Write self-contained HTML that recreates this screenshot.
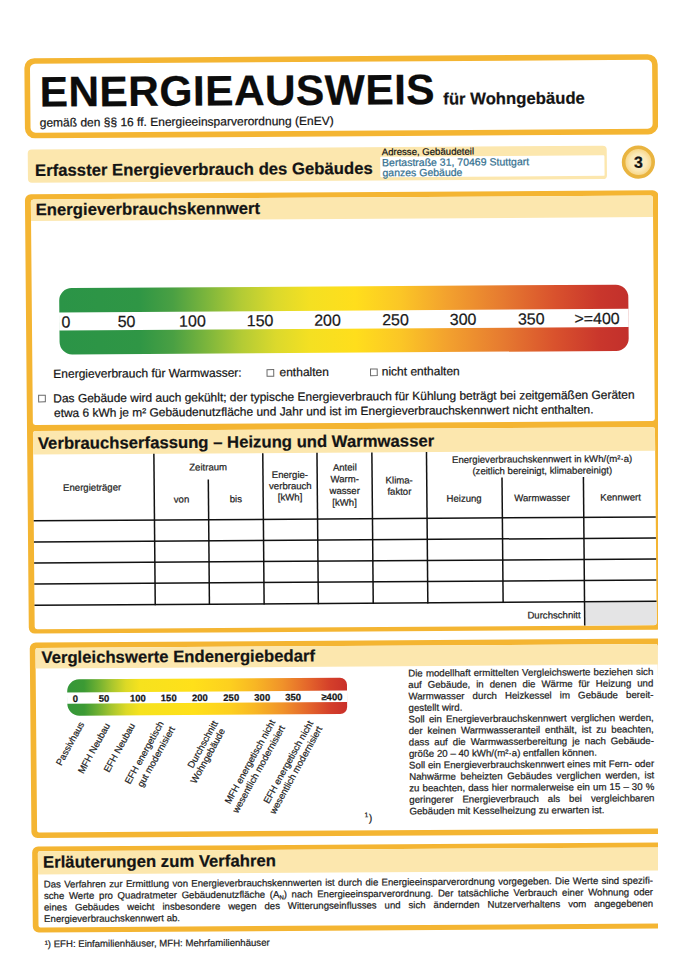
<!DOCTYPE html>
<html lang="de">
<head>
<meta charset="utf-8">
<title>Energieausweis</title>
<style>
html,body{margin:0;padding:0;background:#fff;}
body{width:679px;height:960px;overflow:hidden;position:relative;font-family:"Liberation Sans",sans-serif;color:#141414;}
#clip{position:absolute;left:0;top:0;width:657.5px;height:960px;overflow:hidden;background:#fff;}
#page{position:absolute;left:0;top:0;width:720px;height:990px;transform-origin:0 0;transform:matrix(1,-0.0064,0.009,1,0,0);}
.abs{position:absolute;}
.t{position:absolute;left:0;top:0;white-space:nowrap;line-height:1;-webkit-text-stroke:0.22px;}
.j{text-align:justify;text-align-last:justify;}
.rl text{font-size:9.45px;fill:#1c1c1c;stroke:#1c1c1c;stroke-width:0.2px;font-family:"Liberation Sans",sans-serif;text-anchor:end;}
</style>
</head>
<body>
<div id="clip"><div id="page">
<svg class="abs" style="left:0;top:0;overflow:visible;" width="720" height="990" viewBox="0 0 720 990">
<defs><linearGradient id="g1" x1="0" y1="0" x2="1" y2="0"><stop offset="0%" stop-color="#2b9447"/><stop offset="14%" stop-color="#2f9645"/><stop offset="20%" stop-color="#4aa043"/><stop offset="26%" stop-color="#7db63c"/><stop offset="32%" stop-color="#b3cb35"/><stop offset="38%" stop-color="#dbd92c"/><stop offset="44%" stop-color="#f4e022"/><stop offset="52%" stop-color="#ffde1c"/><stop offset="60%" stop-color="#fbc626"/><stop offset="68%" stop-color="#f3a22e"/><stop offset="78%" stop-color="#e67a30"/><stop offset="87%" stop-color="#d9522d"/><stop offset="95%" stop-color="#c9362c"/><stop offset="100%" stop-color="#c2302c"/></linearGradient><linearGradient id="g2" x1="0" y1="0" x2="1" y2="0"><stop offset="0%" stop-color="#35973a"/><stop offset="6%" stop-color="#3c9a34"/><stop offset="11%" stop-color="#6fb032"/><stop offset="16%" stop-color="#a9c62e"/><stop offset="21%" stop-color="#dcd926"/><stop offset="26%" stop-color="#f6e21e"/><stop offset="45%" stop-color="#ffe01a"/><stop offset="58%" stop-color="#fdd01f"/><stop offset="67%" stop-color="#f8b724"/><stop offset="77%" stop-color="#f0922a"/><stop offset="86%" stop-color="#e4662b"/><stop offset="94%" stop-color="#d43f2a"/><stop offset="100%" stop-color="#c9302a"/></linearGradient><radialGradient id="gc" cx="0.5" cy="0.5" r="0.5"><stop offset="0" stop-color="#fcf1cc"/><stop offset="0.55" stop-color="#fbe9b8"/><stop offset="0.85" stop-color="#f8d98f"/><stop offset="1" stop-color="#f3c868"/></radialGradient></defs>
<path d="M33.77,58.35H647.07A10,10 0 0 1 657.07,68.35V128.55A10,10 0 0 1 647.07,138.55H33.77A10,10 0 0 1 23.77,128.55V68.35A10,10 0 0 1 33.77,58.35Z" fill="#f4b532"/>
<path d="M34.37,63.95H646.47A5,5 0 0 1 651.47,68.95V127.95A5,5 0 0 1 646.47,132.95H34.37A5,5 0 0 1 29.37,127.95V68.95A5,5 0 0 1 34.37,63.95Z" fill="#fff"/>
<path d="M30.35,149.57H601.35A4,4 0 0 1 605.35,153.57V178.97A4,4 0 0 1 601.35,182.97H30.35A4,4 0 0 1 26.35,178.97V153.57A4,4 0 0 1 30.35,149.57Z" fill="#fce7ae"/>
<path d="M379.77,159.22H601.97A1,1 0 0 1 602.97,160.22V178.72A1,1 0 0 1 601.97,179.72H379.77A1,1 0 0 1 378.77,178.72V160.22A1,1 0 0 1 379.77,159.22Z" fill="#fff"/>
<circle cx="636.9" cy="166.18" r="14.8" fill="url(#gc)" stroke="#e9b440" stroke-width="3.6"/>
<path d="M29.15,194.45H650.75A6,6 0 0 1 656.75,200.45V627.8A6,6 0 0 1 650.75,633.8H29.15A6,6 0 0 1 23.15,627.8V200.45A6,6 0 0 1 29.15,194.45Z" fill="#f4b532"/>
<path d="M31.55,199.65H648.55A2.5,2.5 0 0 1 651.05,202.15V422.7A2.5,2.5 0 0 1 648.55,425.2H31.55A2.5,2.5 0 0 1 29.05,422.7V202.15A2.5,2.5 0 0 1 31.55,199.65Z" fill="#fff"/>
<path d="M31.55,431.3H648.55A2.5,2.5 0 0 1 651.05,433.8V626.9A2.5,2.5 0 0 1 648.55,629.4H31.55A2.5,2.5 0 0 1 29.05,626.9V433.8A2.5,2.5 0 0 1 31.55,431.3Z" fill="#fff"/>
<path d="M31.55,199.65H648.55A2.5,2.5 0 0 1 651.05,202.15V221.15H29.05V202.15A2.5,2.5 0 0 1 31.55,199.65Z" fill="#fce7ae"/>
<path d="M31.55,431.3H648.55A2.5,2.5 0 0 1 651.05,433.8V454.8H29.05V433.8A2.5,2.5 0 0 1 31.55,431.3Z" fill="#fce7ae"/>
<path d="M69,288.56H613.1A12.5,12.5 0 0 1 625.6,301.06V342.36A12.5,12.5 0 0 1 613.1,354.86H69A12.5,12.5 0 0 1 56.5,342.36V301.06A12.5,12.5 0 0 1 69,288.56Z" fill="url(#g1)"/>
<rect x="56.19" y="312.76" width="569.6" height="18.2" fill="#fff"/>
<rect x="263.66" y="371.32" width="6.7" height="6.7" fill="#fff" stroke="#6a6a6a" stroke-width="1"/>
<rect x="367.16" y="371.32" width="6.7" height="6.7" fill="#fff" stroke="#6a6a6a" stroke-width="1"/>
<rect x="35.05" y="395.42" width="6.7" height="6.7" fill="#fff" stroke="#6a6a6a" stroke-width="1"/>
<path d="M579.83,606.25H651.05V626.6A2.5,2.5 0 0 1 648.55,629.1H579.83V606.25Z" fill="#e4e4e5"/>
<rect x="149.03" y="454.8" width="1.5" height="151.45" fill="#111"/>
<rect x="203.23" y="480.7" width="1.5" height="125.55" fill="#111"/>
<rect x="257.93" y="454.8" width="1.5" height="151.45" fill="#111"/>
<rect x="312.13" y="454.8" width="1.5" height="151.45" fill="#111"/>
<rect x="367.03" y="454.8" width="1.5" height="151.45" fill="#111"/>
<rect x="421.63" y="454.8" width="1.5" height="151.45" fill="#111"/>
<rect x="496.93" y="480.7" width="1.5" height="125.55" fill="#111"/>
<rect x="578.33" y="480.7" width="1.5" height="148.4" fill="#111"/>
<rect x="29.05" y="520.3" width="622" height="1.5" fill="#111"/>
<rect x="29.05" y="541.35" width="622" height="1.5" fill="#111"/>
<rect x="29.05" y="562.4" width="622" height="1.5" fill="#111"/>
<rect x="29.05" y="583.4" width="622" height="1.5" fill="#111"/>
<rect x="29.05" y="604.75" width="622" height="1.5" fill="#111"/>
<path d="M29.92,642.75H651.52A6,6 0 0 1 657.52,648.75V832.15A6,6 0 0 1 651.52,838.15H29.92A6,6 0 0 1 23.92,832.15V648.75A6,6 0 0 1 29.92,642.75Z" fill="#f4b532"/>
<path d="M31.62,648.15H649.82A2,2 0 0 1 651.82,650.15V830.65A2,2 0 0 1 649.82,832.65H31.62A2,2 0 0 1 29.62,830.65V650.15A2,2 0 0 1 31.62,648.15Z" fill="#fff"/>
<path d="M31.62,648.15H649.82A2,2 0 0 1 651.82,650.15V668.75H29.62V650.15A2,2 0 0 1 31.62,648.15Z" fill="#fce7ae"/>
<path d="M72.98,679.79H333.78A7,7 0 0 1 340.78,686.79V709.19A7,7 0 0 1 333.78,716.19H72.98A12,12 0 0 1 60.98,704.19V691.79A12,12 0 0 1 72.98,679.79Z" fill="url(#g2)"/>
<rect x="60.76" y="692.79" width="280.2" height="11.3" fill="#fff"/>
<path d="M30.48,846.76H658.48A6,6 0 0 1 664.48,852.76V926.76A6,6 0 0 1 658.48,932.76H30.48A6,6 0 0 1 24.48,926.76V852.76A6,6 0 0 1 30.48,846.76Z" fill="#f4b532"/>
<path d="M32.18,851.56H656.78A2,2 0 0 1 658.78,853.56V925.66A2,2 0 0 1 656.78,927.66H32.18A2,2 0 0 1 30.18,925.66V853.56A2,2 0 0 1 32.18,851.56Z" fill="#fff"/>
<path d="M32.18,851.56H656.78A2,2 0 0 1 658.78,853.56V874.66H30.18V853.56A2,2 0 0 1 32.18,851.56Z" fill="#fce7ae"/>
</svg>
<div class="t" style="font-size:42.6px;font-weight:bold;color:#0c0c0c;letter-spacing:0.35px;transform:translate(38.77px,70.77px);">ENERGIEAUSWEIS</div>
<div class="t" style="font-size:16.7px;font-weight:bold;transform:translate(442.38px,94.33px);">für Wohngebäude</div>
<div class="t" style="font-size:12px;transform:translate(38.58px,116.95px);">gemäß den §§ 16 ff. Energieeinsparverordnung (EnEV)</div>
<div class="t" style="font-size:16.7px;font-weight:bold;transform:translate(33.53px,163.22px);">Erfasster Energieverbrauch des Gebäudes</div>
<div class="t" style="font-size:9.6px;transform:translate(380.38px,149.63px);">Adresse, Gebäudeteil</div>
<div class="t" style="font-size:10.5px;color:#34708f;transform:translate(380.54px,159.64px);">Bertastraße 31, 70469 Stuttgart</div>
<div class="t" style="font-size:10.5px;color:#34708f;transform:translate(380.87px,169.84px);">ganzes Gebäude</div>
<div class="t" style="font-size:16px;font-weight:bold;transform:translate(632.43px,158.88px);">3</div>
<div class="t" style="font-size:16.7px;font-weight:bold;transform:translate(33.77px,202.52px);">Energieverbrauchskennwert</div>
<div class="t" style="font-size:16.7px;font-weight:bold;transform:translate(33.87px,436.12px);">Verbrauchserfassung – Heizung und Warmwasser</div>
<div class="t" style="font-size:16px;color:#1a1a1a;transform:translate(58.59px,314.78px);">0</div>
<div class="t" style="font-size:16px;color:#1a1a1a;transform:translate(114.71px,314.78px);">50</div>
<div class="t" style="font-size:16px;color:#1a1a1a;transform:translate(176.15px,314.78px);">100</div>
<div class="t" style="font-size:16px;color:#1a1a1a;transform:translate(243.85px,314.78px);">150</div>
<div class="t" style="font-size:16px;color:#1a1a1a;transform:translate(311.25px,314.78px);">200</div>
<div class="t" style="font-size:16px;color:#1a1a1a;transform:translate(379.25px,314.78px);">250</div>
<div class="t" style="font-size:16px;color:#1a1a1a;transform:translate(446.79px,314.78px);">300</div>
<div class="t" style="font-size:16px;color:#1a1a1a;transform:translate(514.99px,314.78px);">350</div>
<div class="t" style="font-size:16px;color:#1a1a1a;transform:translate(571.43px,314.78px);">&gt;=400</div>
<div class="t" style="font-size:12px;transform:translate(49.94px,368.23px);">Energieverbrauch für Warmwasser:</div>
<div class="t" style="font-size:12px;transform:translate(276.12px,368.02px);">enthalten</div>
<div class="t" style="font-size:12px;transform:translate(378.32px,368.02px);">nicht enthalten</div>
<div class="t" style="font-size:11.95px;transform:translate(49.72px,393.72px);">Das Gebäude wird auch gekühlt; der typische Energieverbrauch für Kühlung beträgt bei zeitgemäßen Geräten</div>
<div class="t" style="font-size:11.95px;transform:translate(50.27px,408.32px);">etwa 6 kWh je m² Gebäudenutzfläche und Jahr und ist im Energieverbrauchskennwert nicht enthalten.</div>
<div class="t" style="font-size:9.6px;color:#1e1e1e;transform:translate(58.68px,483.26px);">Energieträger</div>
<div class="t" style="font-size:9.6px;color:#1e1e1e;transform:translate(184.99px,463.7px);">Zeitraum</div>
<div class="t" style="font-size:9.6px;color:#1e1e1e;transform:translate(169.23px,495.73px);">von</div>
<div class="t" style="font-size:9.6px;color:#1e1e1e;transform:translate(225.2px,495.68px);">bis</div>
<div class="t" style="font-size:9.6px;color:#1e1e1e;transform:translate(267.47px,471.83px);">Energie-</div>
<div class="t" style="font-size:9.6px;color:#1e1e1e;transform:translate(264.63px,483.03px);">verbrauch</div>
<div class="t" style="font-size:9.6px;color:#1e1e1e;transform:translate(273.29px,494.23px);">[kWh]</div>
<div class="t" style="font-size:9.6px;color:#1e1e1e;transform:translate(328.63px,464.78px);">Anteil</div>
<div class="t" style="font-size:9.6px;color:#1e1e1e;transform:translate(326.22px,476.48px);">Warm-</div>
<div class="t" style="font-size:9.6px;color:#1e1e1e;transform:translate(325.01px,488.18px);">wasser</div>
<div class="t" style="font-size:9.6px;color:#1e1e1e;transform:translate(327.74px,499.88px);">[kWh]</div>
<div class="t" style="font-size:9.6px;color:#1e1e1e;transform:translate(381.25px,478.03px);">Klima-</div>
<div class="t" style="font-size:9.6px;color:#1e1e1e;transform:translate(382.92px,489.23px);">faktor</div>
<div class="t" style="font-size:9.6px;color:#1e1e1e;transform:translate(447.84px,457.84px);">Energieverbrauchskennwert in kWh/(m²·a)</div>
<div class="t" style="font-size:9.6px;color:#1e1e1e;transform:translate(468.09px,469.34px);">(zeitlich bereinigt, klimabereinigt)</div>
<div class="t" style="font-size:9.6px;color:#1e1e1e;transform:translate(441.95px,496.64px);">Heizung</div>
<div class="t" style="font-size:9.6px;color:#1e1e1e;transform:translate(509.69px,496.54px);">Warmwasser</div>
<div class="t" style="font-size:9.6px;color:#1e1e1e;transform:translate(595.82px,496.45px);">Kennwert</div>
<div class="t" style="font-size:9.6px;color:#1e1e1e;transform:translate(521.78px,613.88px);">Durchschnitt</div>
<div class="t" style="font-size:16.7px;font-weight:bold;transform:translate(35.45px,650.33px);">Vergleichswerte Endenergiebedarf</div>
<div class="t" style="font-size:9.5px;font-weight:bold;transform:translate(66.35px,694.33px);">0</div>
<div class="t" style="font-size:9.5px;font-weight:bold;transform:translate(92.39px,694.33px);">50</div>
<div class="t" style="font-size:9.5px;font-weight:bold;transform:translate(123.61px,694.33px);">100</div>
<div class="t" style="font-size:9.5px;font-weight:bold;transform:translate(154.51px,694.33px);">150</div>
<div class="t" style="font-size:9.5px;font-weight:bold;transform:translate(185.69px,694.33px);">200</div>
<div class="t" style="font-size:9.5px;font-weight:bold;transform:translate(216.99px,694.33px);">250</div>
<div class="t" style="font-size:9.5px;font-weight:bold;transform:translate(247.99px,694.33px);">300</div>
<div class="t" style="font-size:9.5px;font-weight:bold;transform:translate(278.89px,694.33px);">350</div>
<div class="t" style="font-size:9.5px;font-weight:bold;transform:translate(315.09px,694.33px);">≥400</div>
<svg class="abs rl" style="left:0;top:0;overflow:visible;" width="10" height="10">
<text transform="translate(77.98,724.5) rotate(-60.6)">Passivhaus</text>
<text transform="translate(103.77,725.96) rotate(-60.6)">MFH Neubau</text>
<text transform="translate(128.86,726.12) rotate(-60.6)">EFH Neubau</text>
<text transform="translate(157.48,724.41) rotate(-60.6)">EFH energetisch</text>
<text transform="translate(168.63,729.78) rotate(-60.6)">gut modernisiert</text>
<text transform="translate(211.68,724.35) rotate(-60.6)">Durchschnitt</text>
<text transform="translate(218.81,732.1) rotate(-60.6)">Wohngebäude</text>
<text transform="translate(269.09,723.72) rotate(-60.6)">MFH energetisch nicht</text>
<text transform="translate(278.74,729.38) rotate(-60.6)">wesentlich modernisiert</text>
<text transform="translate(306.98,724.96) rotate(-60.6)">EFH energetisch nicht</text>
<text transform="translate(316.03,730.52) rotate(-60.6)">wesentlich modernisiert</text>
</svg>
<div class="t" style="font-size:6.8px;color:#1e1e1e;transform:translate(357.01px,814.59px);">1</div>
<div class="t" style="font-size:10.7px;color:#1e1e1e;transform:translate(361.33px,814.81px);">)</div>
<div class="t j" style="font-size:9.7px;width:245.1px;transform:translate(402.09px,671.07px);color:#1e1e1e;">Die modellhaft ermittelten Vergleichswerte beziehen sich</div>
<div class="t j" style="font-size:9.7px;width:245.1px;transform:translate(402.09px,682.56px);color:#1e1e1e;">auf Gebäude, in denen die Wärme für Heizung und</div>
<div class="t j" style="font-size:9.7px;width:245.1px;transform:translate(402.09px,694.05px);color:#1e1e1e;">Warmwasser durch Heizkessel im Gebäude bereit-</div>
<div class="t" style="font-size:9.7px;width:245.1px;transform:translate(402.09px,705.54px);color:#1e1e1e;">gestellt wird.</div>
<div class="t j" style="font-size:9.7px;width:245.1px;transform:translate(402.09px,717.03px);color:#1e1e1e;">Soll ein Energieverbrauchskennwert verglichen werden,</div>
<div class="t j" style="font-size:9.7px;width:245.1px;transform:translate(402.09px,728.52px);color:#1e1e1e;">der keinen Warmwasseranteil enthält, ist zu beachten,</div>
<div class="t j" style="font-size:9.7px;width:245.1px;transform:translate(402.09px,740.01px);color:#1e1e1e;">dass auf die Warmwasserbereitung je nach Gebäude-</div>
<div class="t" style="font-size:9.7px;width:245.1px;transform:translate(402.09px,751.5px);color:#1e1e1e;">größe 20 – 40 kWh/(m²·a) entfallen können.</div>
<div class="t j" style="font-size:9.7px;width:245.1px;transform:translate(402.09px,762.99px);color:#1e1e1e;">Soll ein Energieverbrauchskennwert eines mit Fern- oder</div>
<div class="t j" style="font-size:9.7px;width:245.1px;transform:translate(402.09px,774.48px);color:#1e1e1e;">Nahwärme beheizten Gebäudes verglichen werden, ist</div>
<div class="t j" style="font-size:9.7px;width:245.1px;transform:translate(402.09px,785.97px);color:#1e1e1e;">zu beachten, dass hier normalerweise ein um 15 – 30 %</div>
<div class="t j" style="font-size:9.7px;width:245.1px;transform:translate(402.09px,797.46px);color:#1e1e1e;">geringerer Energieverbrauch als bei vergleichbaren</div>
<div class="t" style="font-size:9.7px;width:245.1px;transform:translate(402.09px,808.95px);color:#1e1e1e;">Gebäuden mit Kesselheizung zu erwarten ist.</div>
<div class="t" style="font-size:16.7px;font-weight:bold;transform:translate(35.3px,854.93px);">Erläuterungen zum Verfahren</div>
<div class="t j" style="font-size:9.65px;width:609.2px;transform:translate(35.81px,879.83px);color:#1e1e1e;">Das Verfahren zur Ermittlung von Energieverbrauchskennwerten ist durch die Energieeinsparverordnung vorgegeben. Die Werte sind spezifi-</div>
<div class="t j" style="font-size:9.65px;width:609.2px;transform:translate(35.81px,891.33px);color:#1e1e1e;">sche Werte pro Quadratmeter Gebäudenutzfläche (A<span style="font-size:6px;position:relative;top:1.6px;">N</span>) nach Energieeinsparverordnung. Der tatsächliche Verbrauch einer Wohnung oder</div>
<div class="t j" style="font-size:9.65px;width:609.2px;transform:translate(35.81px,902.83px);color:#1e1e1e;">eines Gebäudes weicht insbesondere wegen des Witterungseinflusses und sich ändernden Nutzerverhaltens vom angegebenen</div>
<div class="t" style="font-size:9.65px;width:609.2px;transform:translate(35.81px,914.33px);color:#1e1e1e;">Energieverbrauchskennwert ab.</div>
<div class="t" style="font-size:9.6px;color:#1e1e1e;transform:translate(36.14px,939.43px);">¹) EFH: Einfamilienhäuser, MFH: Mehrfamilienhäuser</div>
</div></div>
</body>
</html>
